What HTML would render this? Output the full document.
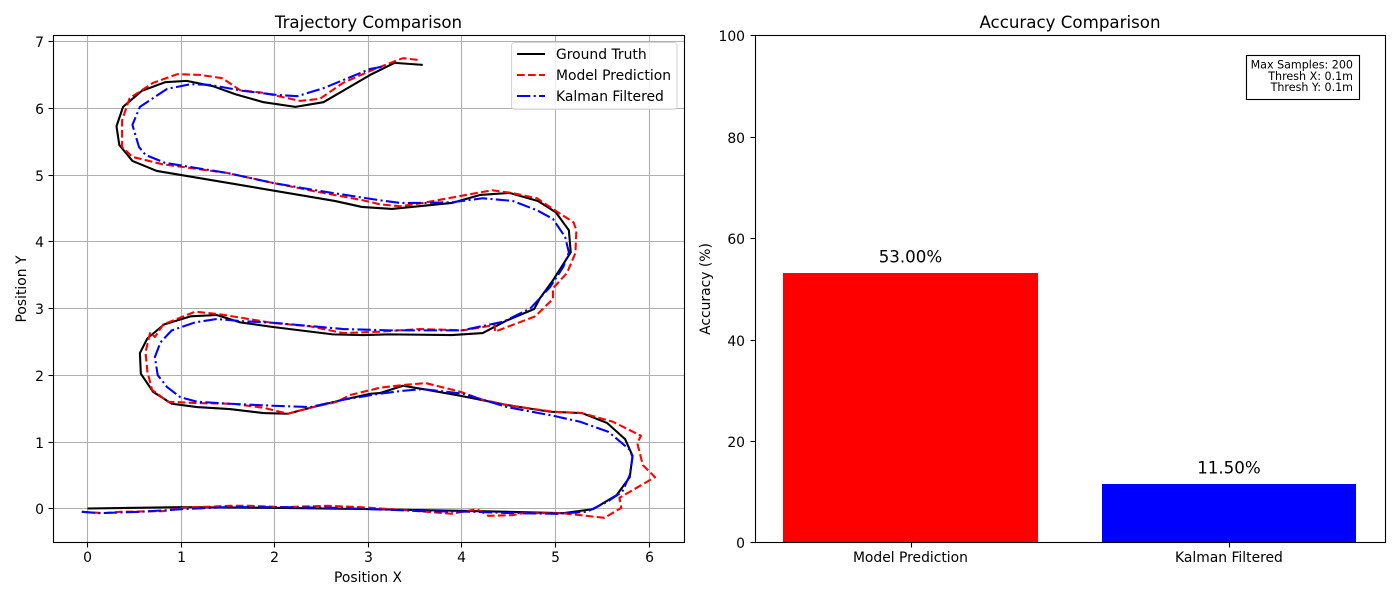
<!DOCTYPE html>
<html lang="en">
<head>
<meta charset="utf-8">
<title>Trajectory and Accuracy Comparison</title>
<style>
  html, body { margin: 0; padding: 0; background: #fff; }
  body { width: 1400px; height: 600px; overflow: hidden; }
  svg { display: block; }
  text { font-family: "DejaVu Sans", "Liberation Sans", sans-serif; fill: #000; }
</style>
</head>
<body>
<svg id="figure" xmlns="http://www.w3.org/2000/svg" width="1400" height="600" viewBox="0 0 1400 600"></svg>
<script>
// ---- Trajectory chart data (position units) ----
const groundTruthX = [0.00,1.00,1.99,3.00,4.19,5.08,5.40,5.65,5.79,5.82,5.74,5.55,5.28,4.94,4.48,3.98,3.58,3.37,3.12,3.02,2.73,2.38,2.14,1.88,1.52,1.17,0.90,0.70,0.57,0.56,0.64,0.82,1.10,1.38,1.63,1.98,2.62,2.94,3.23,3.89,4.22,4.48,4.77,4.83,4.97,5.16,5.14,5.00,4.81,4.51,4.19,3.89,3.25,2.93,2.64,0.74,0.48,0.34,0.31,0.38,0.58,0.83,1.06,1.34,1.58,1.88,2.22,2.52,3.02,3.28,3.58];
const groundTruthY = [0.00,0.02,0.01,-0.01,-0.04,-0.07,-0.01,0.20,0.47,0.79,1.04,1.28,1.43,1.45,1.55,1.69,1.79,1.84,1.73,1.72,1.63,1.51,1.42,1.43,1.49,1.52,1.57,1.75,2.02,2.33,2.55,2.76,2.88,2.90,2.79,2.72,2.61,2.60,2.61,2.60,2.63,2.82,2.99,3.15,3.42,3.84,4.17,4.44,4.61,4.73,4.70,4.58,4.49,4.52,4.61,5.06,5.21,5.45,5.73,6.02,6.26,6.39,6.41,6.33,6.21,6.09,6.02,6.09,6.50,6.68,6.65];
const modelPredictionX = [-0.06,0.17,0.35,0.81,1.02,1.52,1.74,2.09,2.56,2.91,3.23,3.63,3.89,4.16,4.28,4.54,4.65,5.07,5.52,5.70,5.68,6.06,5.93,5.87,5.91,5.61,5.28,4.97,4.48,4.22,3.98,3.61,3.37,3.12,3.04,2.80,2.67,2.38,2.14,1.88,1.55,1.17,0.86,0.69,0.64,0.62,0.67,0.72,0.81,1.15,1.42,1.98,2.38,2.73,3.12,3.55,4.01,4.35,4.35,4.78,4.97,4.97,5.12,5.21,5.22,5.19,4.99,4.80,4.53,4.32,4.12,3.89,3.58,3.34,3.12,2.94,2.48,1.98,1.49,0.80,0.48,0.37,0.37,0.45,0.70,0.96,1.20,1.44,1.63,1.88,2.27,2.48,2.73,3.02,3.31,3.37,3.55];
const modelPredictionY = [-0.05,-0.07,-0.05,-0.04,0.01,0.04,0.04,0.02,0.04,0.02,-0.01,-0.05,-0.08,-0.01,-0.11,-0.10,-0.07,-0.07,-0.14,0.01,0.16,0.47,0.65,0.98,1.09,1.30,1.43,1.45,1.55,1.63,1.75,1.88,1.85,1.81,1.78,1.70,1.60,1.51,1.42,1.51,1.57,1.58,1.60,1.78,2.05,2.34,2.64,2.57,2.76,2.95,2.91,2.78,2.73,2.63,2.65,2.69,2.67,2.75,2.65,2.88,3.14,3.30,3.53,3.83,4.17,4.29,4.47,4.65,4.73,4.77,4.72,4.66,4.58,4.53,4.56,4.62,4.74,4.88,5.03,5.16,5.27,5.42,5.82,6.15,6.38,6.51,6.50,6.45,6.27,6.23,6.11,6.14,6.38,6.56,6.72,6.75,6.72];
const kalmanFilteredX = [-0.06,0.13,0.56,1.02,1.49,2.09,2.62,3.23,3.58,4.12,4.54,5.01,5.33,5.55,5.71,5.79,5.82,5.79,5.63,5.56,5.26,4.97,4.48,4.22,4.01,3.58,3.34,3.12,2.73,2.38,1.98,1.52,1.17,0.99,0.85,0.75,0.72,0.78,0.90,1.15,1.38,1.63,2.02,2.73,3.23,4.00,4.44,4.73,4.94,5.08,5.14,5.10,4.97,4.80,4.54,4.22,3.89,3.58,3.34,3.12,2.48,1.98,1.49,0.83,0.62,0.55,0.48,0.56,0.85,1.10,1.31,1.66,2.02,2.24,2.52,3.02,3.18];
const kalmanFilteredY = [-0.05,-0.07,-0.05,-0.01,0.02,0.02,0.01,-0.02,-0.04,-0.05,-0.07,-0.08,-0.05,0.10,0.25,0.50,0.77,0.88,1.07,1.15,1.30,1.39,1.52,1.63,1.72,1.79,1.76,1.72,1.63,1.52,1.54,1.57,1.60,1.67,1.82,2.00,2.27,2.49,2.67,2.79,2.84,2.81,2.78,2.69,2.67,2.67,2.80,3.00,3.32,3.62,3.84,4.07,4.34,4.47,4.61,4.65,4.59,4.58,4.58,4.62,4.76,4.88,5.03,5.18,5.30,5.42,5.75,6.02,6.29,6.36,6.35,6.26,6.20,6.18,6.30,6.59,6.63];
const trajectoryXTicks = [0,1,2,3,4,5,6];
const trajectoryYTicks = [0,1,2,3,4,5,6,7];

// ---- Accuracy chart data ----
const accuracyCategories = ["Model Prediction","Kalman Filtered"];
const accuracyValues = [53.00,11.50];
const accuracyColors = ["#ff0000","#0000ff"];
const accuracyTicks = [0,20,40,60,80,100];
const infoLines = ["Max Samples: 200","Thresh X: 0.1m","Thresh Y: 0.1m"];

const NS = "http://www.w3.org/2000/svg";
const root = document.getElementById("figure");

function mk(parent, tag, attrs, txt) {
  const el = document.createElementNS(NS, tag);
  for (const k in attrs) el.setAttribute(k, attrs[k]);
  if (txt !== undefined) el.textContent = txt;
  parent.appendChild(el);
  return el;
}
function scale(d0, d1, r0, r1) {
  return v => r0 + (v - d0) * (r1 - r0) / (d1 - d0);
}
function snapX(v) { return Math.floor(v - 0.1) + 0.5; }
function snapY(v) { return Math.round(v - 0.2) + 0.5; }

// axis functions
const trajBox = { l: 53.5, r: 684.5, t: 35.5, b: 542.5 };
const trajX = scale(-0.3625, 6.3745, trajBox.l, trajBox.r);
const trajY = scale(-0.51, 7.09, trajBox.b, trajBox.t);
const accBox = { l: 755.5, r: 1385.5, t: 35.5, b: 542.5 };
const accX = scale(-0.4865, 1.4915, accBox.l, accBox.r);
const accY = scale(0, 100, accBox.b, accBox.t);

// ---------- Trajectory panel ----------
const gTraj = mk(root, "g", {});



trajectoryXTicks.forEach(t => {
  const px = snapX(trajX(t));
  const grid = mk(gTraj, "line", { x1: px, x2: px, y1: trajBox.t, y2: trajBox.b, stroke: "#b0b0b0", "stroke-width": 1.1 });
  
  
  const tick = mk(gTraj, "line", { x1: px, x2: px, y1: trajBox.b, y2: trajBox.b + 5, stroke: "#000", "stroke-width": 1.1 });
  
  
  const lab = mk(gTraj, "text", { x: px, y: 562, "text-anchor": "middle", "font-size": 13.89 }, String(t));
  
  
});
trajectoryYTicks.forEach(t => {
  const py = snapY(trajY(t));
  const grid = mk(gTraj, "line", { x1: trajBox.l, x2: trajBox.r, y1: py, y2: py, stroke: "#b0b0b0", "stroke-width": 1.1 });
  
  
  const tick = mk(gTraj, "line", { x1: trajBox.l - 5, x2: trajBox.l, y1: py, y2: py, stroke: "#000", "stroke-width": 1.1 });
  
  
  const lab = mk(gTraj, "text", { x: 44, y: py + 5.3, "text-anchor": "end", "font-size": 13.89 }, String(t));
  
  
});

function pathPoints(xs, ys) {
  return xs.map((x, i) => trajX(x).toFixed(2) + "," + trajY(ys[i]).toFixed(2)).join(" ");
}
const gtLine = mk(gTraj, "polyline", { points: pathPoints(groundTruthX, groundTruthY), fill: "none", stroke: "#000000", "stroke-width": 2.08, "stroke-linejoin": "round" });


const mpLine = mk(gTraj, "polyline", { points: pathPoints(modelPredictionX, modelPredictionY), fill: "none", stroke: "#ff0000", "stroke-width": 2.08, "stroke-linejoin": "round", "stroke-dasharray": "7.7 3.33" });


const kfLine = mk(gTraj, "polyline", { points: pathPoints(kalmanFilteredX, kalmanFilteredY), fill: "none", stroke: "#0000ff", "stroke-width": 2.08, "stroke-linejoin": "round", "stroke-dasharray": "13.33 3.33 2.08 3.33" });



const trajFrame = mk(gTraj, "rect", { x: trajBox.l, y: trajBox.t, width: trajBox.r - trajBox.l, height: trajBox.b - trajBox.t, fill: "none", stroke: "#000", "stroke-width": 1.1 });



const trajTitle = mk(gTraj, "text", { x: 368.5, y: 28, "text-anchor": "middle", "font-size": 16.67 }, "Trajectory Comparison");


const trajXLabel = mk(gTraj, "text", { x: 368, y: 582, "text-anchor": "middle", "font-size": 13.89 }, "Position X");


const trajYLabel = mk(gTraj, "text", { x: 26, y: 289, "text-anchor": "middle", "font-size": 13.89, transform: "rotate(-90 26 289)" }, "Position Y");



// legend
const legend = mk(gTraj, "g", {});


const legendBox = mk(legend, "rect", { x: 511.5, y: 42.5, width: 165.5, height: 66.8, rx: 3, ry: 3, fill: "#fff", "fill-opacity": 0.8, stroke: "#cccccc", "stroke-opacity": 0.8, "stroke-width": 1.11 });



const entry1Line = mk(legend, "line", { x1: 517, x2: 545, y1: 54, y2: 54, stroke: "#000000", "stroke-width": 2.08 });


const entry1Text = mk(legend, "text", { x: 556, y: 59, "font-size": 13.89 }, "Ground Truth");



const entry2Line = mk(legend, "line", { x1: 517, x2: 545, y1: 75, y2: 75, stroke: "#ff0000", "stroke-width": 2.08, "stroke-dasharray": "7.7 3.33" });


const entry2Text = mk(legend, "text", { x: 556, y: 80, "font-size": 13.89 }, "Model Prediction");



const entry3Line = mk(legend, "line", { x1: 517, x2: 545, y1: 96, y2: 96, stroke: "#0000ff", "stroke-width": 2.08, "stroke-dasharray": "13.33 3.33 2.08 3.33" });


const entry3Text = mk(legend, "text", { x: 556, y: 101, "font-size": 13.89 }, "Kalman Filtered");



// ---------- Accuracy panel ----------
const gAcc = mk(root, "g", {});



accuracyCategories.forEach((c, i) => {
  const left = Math.round(accX(i - 0.4)), right = Math.round(accX(i + 0.4));
  const top = Math.floor(accY(accuracyValues[i])), base = accY(0);
  const bar = mk(gAcc, "rect", { x: left, y: top, width: right - left, height: base - top, fill: accuracyColors[i] });
  
  
  const val = mk(gAcc, "text", { x: accX(i), y: top - 10.3, "text-anchor": "middle", "font-size": 16.67 }, accuracyValues[i].toFixed(2) + "%");
  
  
  const tickX = Math.ceil(accX(i)) + 0.5;
  const tick = mk(gAcc, "line", { x1: tickX, x2: tickX, y1: accBox.b, y2: accBox.b + 5, stroke: "#000", "stroke-width": 1.1 });
  
  
  const lab = mk(gAcc, "text", { x: accX(i), y: 562, "text-anchor": "middle", "font-size": 13.89 }, c);
  
  
});
accuracyTicks.forEach(t => {
  const py = snapY(accY(t));
  const tick = mk(gAcc, "line", { x1: accBox.l - 5, x2: accBox.l, y1: py, y2: py, stroke: "#000", "stroke-width": 1.1 });
  
  
  const lab = mk(gAcc, "text", { x: 745, y: py + 5.3, "text-anchor": "end", "font-size": 13.89 }, String(t));
  
  
});

const accFrame = mk(gAcc, "rect", { x: accBox.l, y: accBox.t, width: accBox.r - accBox.l, height: accBox.b - accBox.t, fill: "none", stroke: "#000", "stroke-width": 1.1 });



const accTitle = mk(gAcc, "text", { x: 1070, y: 28, "text-anchor": "middle", "font-size": 16.67 }, "Accuracy Comparison");


const accYLabel = mk(gAcc, "text", { x: 710, y: 289, "text-anchor": "middle", "font-size": 13.89, transform: "rotate(-90 710 289)" }, "Accuracy (%)");



// info box
const info = mk(gAcc, "g", {});


const infoRect = mk(info, "rect", { x: 1246.5, y: 55.5, width: 113, height: 44, fill: "#fff", stroke: "#000", "stroke-width": 1.11 });


infoLines.forEach((line, i) => {
  const t = mk(info, "text", { x: 1353, y: 68.5 + i * 11.3, "text-anchor": "end", "font-size": 11.11 }, line);
  
  
});
</script>
</body>
</html>
